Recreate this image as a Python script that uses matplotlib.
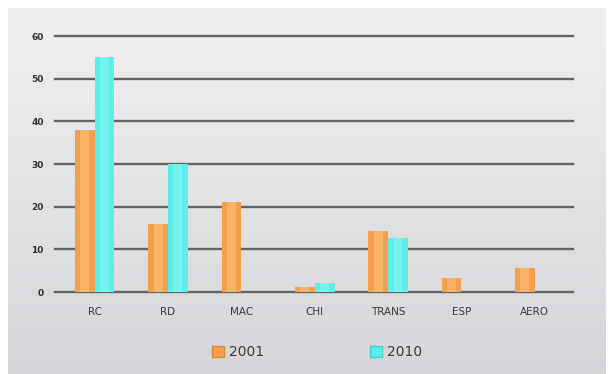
import matplotlib
matplotlib.use("Agg")
import matplotlib.pyplot as plt
import numpy as np
from matplotlib.patches import Patch

categories = ["RC", "RD", "MAC", "CHI", "TRANS", "ESP", "AERO"]
values_2001 = [38, 16, 21, 1.2, 14.2, 3.2, 5.6]
values_2010 = [55, 30, 0, 2.0, 12.6, 0, 0]
series_names = ["2001", "2010"]
yticks = [0, 10, 20, 30, 40, 50, 60]

W, H = 609, 374
fig = plt.figure(figsize=(W / 100, H / 100), dpi=100)
fig.patch.set_facecolor("white")

# gradient background panel
bg = fig.add_axes([8 / W, 0, 598 / W, 366 / H])
grad = np.linspace(0, 1, 256).reshape(-1, 1)
top = np.array([0.94, 0.94, 0.945])
bot = np.array([0.835, 0.84, 0.85])
img = top[None, None, :] * (1 - grad[..., None]) + bot[None, None, :] * grad[..., None]
bg.imshow(img, aspect="auto", extent=[0, 1, 0, 1])
bg.set_axis_off()

ax = fig.add_axes([55 / W, (H - 292) / H, 518 / W, 256 / H])
ax.patch.set_alpha(0)
x = np.arange(len(categories))
bw = 0.27
orange = "#f59f4c"
orange_hi = "#fcc27e"
cyan = "#5eeeea"
cyan_hi = "#8ef7f5"

ax.bar(x - bw / 2, values_2001, width=bw, color=orange, zorder=3)
ax.bar(x - bw / 2, values_2001, width=bw * 0.45, color=orange_hi, alpha=0.6, zorder=4)
ax.bar(x + bw / 2, values_2010, width=bw, color=cyan, zorder=3)
ax.bar(x + bw / 2, values_2010, width=bw * 0.45, color=cyan_hi, alpha=0.5, zorder=4)

ax.set_xlim(-0.54, 6.52)
ax.set_ylim(0, 60)
ax.set_yticks(yticks)
ax.yaxis.grid(True, color="#646464", linewidth=1.7, zorder=1)
for gl in ax.get_ygridlines():
    gl.set_clip_on(False)
ax.set_axisbelow(True)
for s in ax.spines.values():
    s.set_visible(False)
ax.set_xticks(x)
ax.set_xticklabels(categories, fontsize=7.5, color="#3a3a3a", fontweight="medium")
ax.tick_params(axis="x", length=0, pad=11)
ax.tick_params(axis="y", length=0, pad=8, labelsize=6.5, labelcolor="#333333")
for t in ax.get_yticklabels():
    t.set_fontweight("bold")

handles = [Patch(facecolor=orange, edgecolor="#d98a3a"), Patch(facecolor=cyan, edgecolor="#3fd0d0")]
fig.legend(handles, series_names, loc="center", bbox_to_anchor=(317 / W, 1 - 352 / H),
           ncol=2, frameon=False, fontsize=10, handlelength=0.85, handleheight=0.85,
           handletextpad=0.4, columnspacing=7.6, labelcolor="#3a3a3a")

fig.savefig("out.png", dpi=100)
